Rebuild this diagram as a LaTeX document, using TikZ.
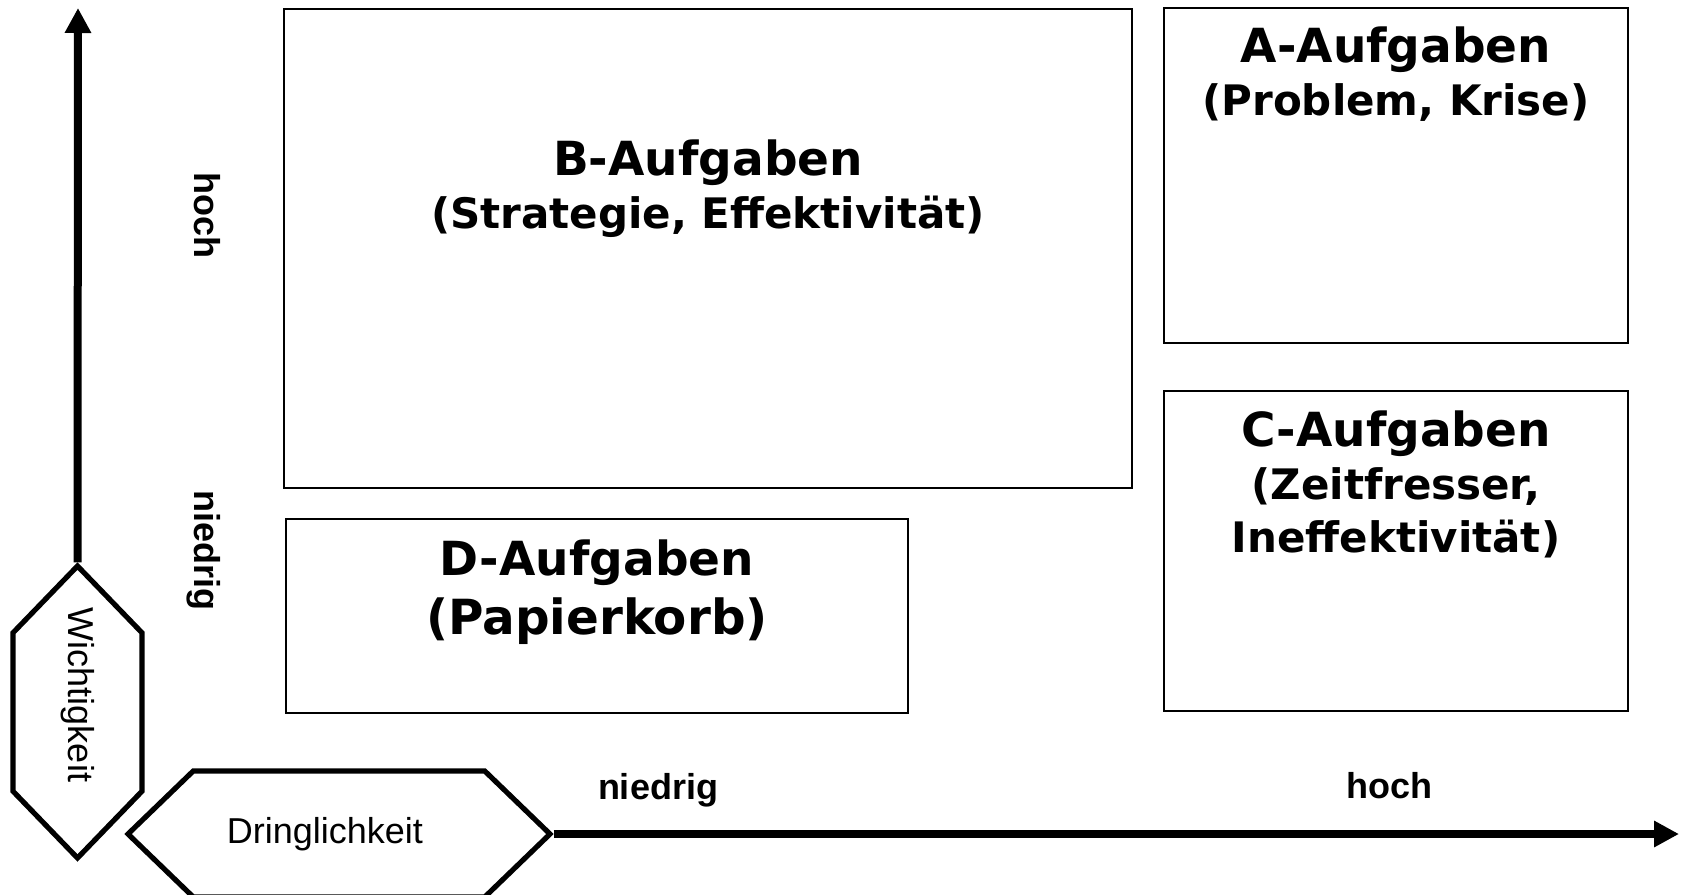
\documentclass[tikz,border=0pt]{standalone}
\usepackage{fontspec}
\setmainfont{Liberation Sans}
\newfontfamily\verdfont{DejaVu Sans}
\usetikzlibrary{arrows.meta}
\usetikzlibrary{positioning}
\usetikzlibrary{shapes.symbols}

\begin{document}
\begin{tikzpicture}[x=.5pt,y=-.5pt,
  box/.style={draw,line width=1.1pt,inner sep=0pt},
  title/.style={font=\verdfont\bfseries\fontsize{23.5}{26.5}\selectfont,align=center,inner sep=0pt},
  hexa/.style={draw,line width=2.6pt,shape=signal,signal to=west and east,signal pointer angle=88,inner sep=0pt,font=\fontsize{18}{20}\selectfont},
  axis/.style={line width=4pt,-{Triangle[length=12.5pt,width=12.5pt]}},
  lbl/.style={font=\bfseries\fontsize{18}{20}\selectfont,inner sep=0pt}]
\useasboundingbox (0,0) rectangle (1683,895);

% Felder
\node[box,minimum width=424pt,minimum height=239.5pt] (B) at (708,248.5) {};
\node[box,minimum width=232pt,minimum height=167.5pt] (A) at (1396,175.5) {};
\node[box,minimum width=232pt,minimum height=160pt] (C) at (1396,551) {};
\node[box,minimum width=311pt,minimum height=97pt] (D) at (597,616) {};

\node[title,below=65.5pt of B.north] (Btext) {B-Aufgaben\\{\fontsize{21}{26.5}\selectfont(Strategie, Effektivität)}};
\node[title,below=9.5pt of A.north] (Atext) {A-Aufgaben\\{\fontsize{21}{26.5}\selectfont(Problem, Krise)}};
\node[title,below=10pt of C.north] (Ctext) {C-Aufgaben\\{\fontsize{21}{26.5}\selectfont(Zeitfresser,}\\{\fontsize{21}{26.5}\selectfont Ineffektivität)}};
\node[title,below=10.5pt of D.north] (Dtext) {D-Aufgaben\\[3pt]{\fontsize{24.2}{26.5}\selectfont(Papierkorb)}};

% Achsen
\node[hexa,rotate=-90,minimum width=146pt,minimum height=64.5pt] (wicht) at (77.5,712) {\makebox[60pt]{Wichtigkeit\hspace*{17pt}}};
\node[hexa,minimum width=211pt,minimum height=63pt] (dring) at (339,834) {Dringlichkeit\hspace*{14pt}};
\coordinate (wtip) at (78,8);
\coordinate (htip) at (1679,834);
\draw[axis] (wicht.west) -- (wtip);
\draw[axis] (dring.east) -- (htip);

\node[lbl,rotate=-90] (hochv) at (207,215) {hoch};
\node[lbl,rotate=-90] (niedv) at (204,550) {niedrig};
\node[lbl] (niedh) at (658,790) {niedrig};
\node[lbl] (hochh) at (1389,786) {hoch};

\end{tikzpicture}
\end{document}
